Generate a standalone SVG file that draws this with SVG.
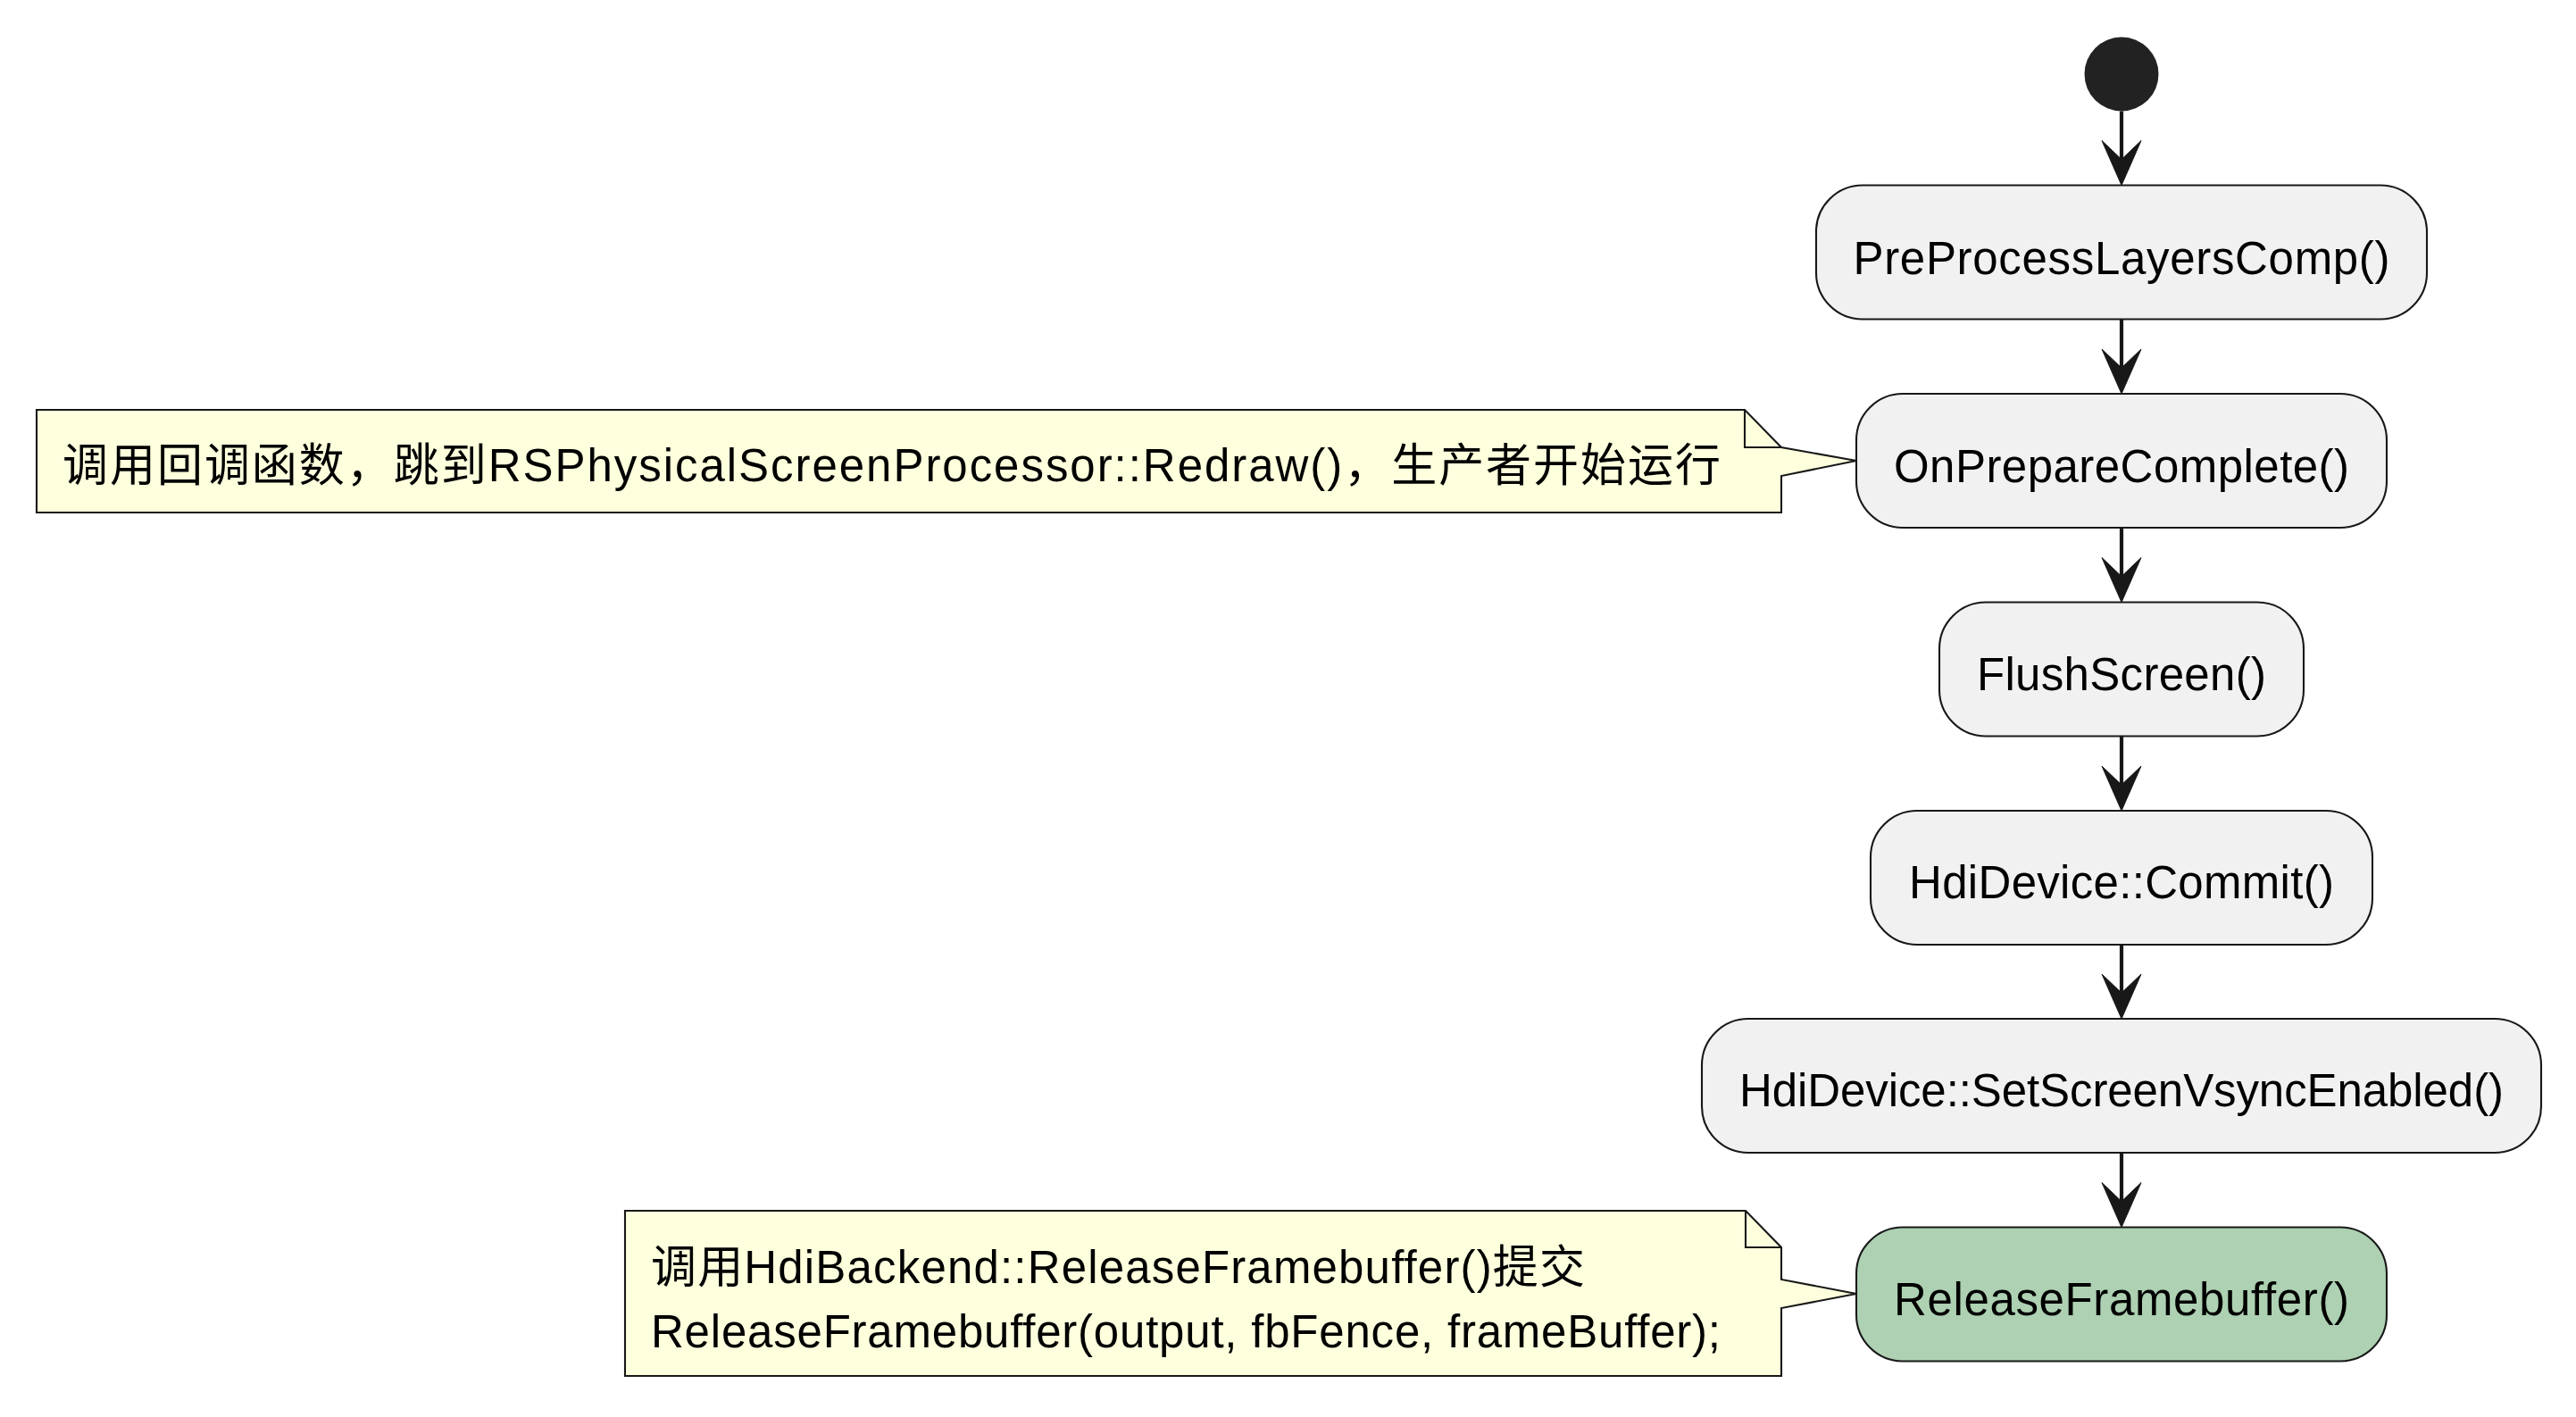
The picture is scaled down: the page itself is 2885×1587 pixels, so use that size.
<svg xmlns="http://www.w3.org/2000/svg" width="2885" height="1587" viewBox="0 0 2885 1587">
<style>
  .act { fill: #F1F1F1; stroke: #181818; stroke-width: 2.1; }
  .act-green { fill: #ADD1B2; stroke: #181818; stroke-width: 2.1; }
  .note { fill: #FEFFDD; stroke: #181818; stroke-width: 2.1; }
  .fold { fill: none; stroke: #181818; stroke-width: 2.1; }
  .lbl { font-family: "Liberation Sans", "Noto Sans CJK SC", sans-serif; font-size: 51px; fill: #000000; }
  .mid { text-anchor: middle; }
  .edge { stroke: #181818; stroke-width: 4.2; fill: none; }
  .head { fill: #181818; stroke: #181818; stroke-width: 1; }
</style>
<rect width="2885" height="1587" fill="#FFFFFF"/>

<g id="start">
  <circle cx="2376" cy="83" r="41.5" fill="#222222"/>
</g>

<g id="connectors">
  <line class="edge" x1="2376" y1="124.5" x2="2376" y2="200"/>
  <polygon class="head" points="2376,207.5 2354,157.5 2376,178.5 2398,157.5"/>
  <line class="edge" x1="2376" y1="357.5" x2="2376" y2="433"/>
  <polygon class="head" points="2376,441 2354,391 2376,412 2398,391"/>
  <line class="edge" x1="2376" y1="591" x2="2376" y2="667"/>
  <polygon class="head" points="2376,674.5 2354,624.5 2376,645.5 2398,624.5"/>
  <line class="edge" x1="2376" y1="824.5" x2="2376" y2="900"/>
  <polygon class="head" points="2376,908 2354,858 2376,879 2398,858"/>
  <line class="edge" x1="2376" y1="1058" x2="2376" y2="1133"/>
  <polygon class="head" points="2376,1141 2354,1091 2376,1112 2398,1091"/>
  <line class="edge" x1="2376" y1="1291" x2="2376" y2="1367"/>
  <polygon class="head" points="2376,1374.5 2354,1324.5 2376,1345.5 2398,1324.5"/>
</g>

<g id="node-preprocess">
  <rect class="act" x="2034" y="207.5" width="684" height="150" rx="52" ry="52"/>
  <text class="lbl mid" x="2376" y="307" textLength="601" lengthAdjust="spacing">PreProcessLayersComp()</text>
</g>

<g id="node-onprepare">
  <rect class="act" x="2079" y="441" width="594" height="150" rx="52" ry="52"/>
  <text class="lbl mid" x="2376" y="540" textLength="510" lengthAdjust="spacing">OnPrepareComplete()</text>
</g>

<g id="note-onprepare">
  <path class="note" d="M41,459 L1954,459 L1995,501 L1995,501 L2079,516 L1995,533 L1995,574 L41,574 Z"/>
  <path class="fold" d="M1954,459 L1954,501 L1995,501"/>
  <text class="lbl" x="70" y="539" textLength="1857" lengthAdjust="spacing">调用回调函数，跳到RSPhysicalScreenProcessor::Redraw()，生产者开始运行</text>
</g>

<g id="node-flush">
  <rect class="act" x="2172" y="674.5" width="408" height="150" rx="52" ry="52"/>
  <text class="lbl mid" x="2376" y="773" textLength="324" lengthAdjust="spacing">FlushScreen()</text>
</g>

<g id="node-commit">
  <rect class="act" x="2095" y="908" width="562" height="150" rx="52" ry="52"/>
  <text class="lbl mid" x="2376" y="1006" textLength="476" lengthAdjust="spacing">HdiDevice::Commit()</text>
</g>

<g id="node-vsync">
  <rect class="act" x="1906" y="1141" width="940" height="150" rx="52" ry="52"/>
  <text class="lbl mid" x="2376" y="1239" textLength="856" lengthAdjust="spacing">HdiDevice::SetScreenVsyncEnabled()</text>
</g>

<g id="node-release">
  <rect class="act-green" x="2079" y="1374.5" width="594" height="150" rx="52" ry="52"/>
  <text class="lbl mid" x="2376" y="1473" textLength="510" lengthAdjust="spacing">ReleaseFramebuffer()</text>
</g>

<g id="note-release">
  <path class="note" d="M700,1356 L1955,1356 L1995,1397 L1995,1433 L2079,1449 L1995,1465 L1995,1541 L700,1541 Z"/>
  <path class="fold" d="M1955,1356 L1955,1397 L1995,1397"/>
  <text class="lbl" x="729" y="1437" textLength="1046" lengthAdjust="spacing">调用HdiBackend::ReleaseFramebuffer()提交</text>
  <text class="lbl" x="729" y="1509" textLength="1198" lengthAdjust="spacing">ReleaseFramebuffer(output, fbFence, frameBuffer);</text>
</g>
</svg>
